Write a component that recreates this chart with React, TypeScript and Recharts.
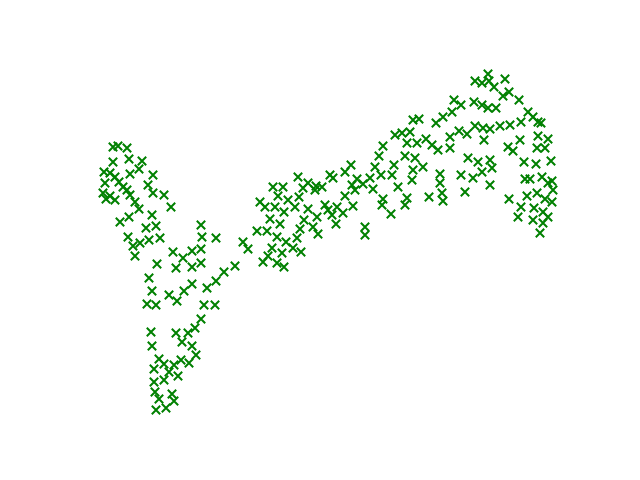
import React from 'react'
import { ScatterChart, Scatter, XAxis, YAxis } from 'recharts'

// readings, [x, y]; y grows downward (axis reversed)
const leftArm: [number, number][] = [
  [113, 147], [118, 146], [127, 148], [113, 162], [129, 159], [142, 161],
  [104, 172], [110, 173], [115, 177], [130, 174], [139, 169], [153, 175],
  [105, 183], [119, 182], [123, 187], [148, 185], [103, 193], [110, 196],
  [106, 199], [115, 200], [127, 190], [130, 195], [153, 193], [164, 195],
  [135, 202], [139, 209], [171, 207], [120, 222], [129, 217], [152, 215],
  [156, 226], [146, 228], [201, 225],
]

const leftMiddle: [number, number][] = [
  [128, 237], [133, 246], [140, 243], [149, 240], [160, 238], [135, 256],
  [202, 237], [216, 238], [173, 252], [183, 258], [192, 251], [201, 249],
  [157, 264], [176, 268], [192, 267], [201, 263], [149, 278], [192, 284],
  [184, 291], [207, 288], [216, 281], [152, 291], [169, 295], [177, 301],
  [147, 304], [156, 305], [204, 305], [215, 305], [201, 319],
]

const bottomDip: [number, number][] = [
  [151, 332], [152, 346], [176, 333], [188, 333], [195, 328], [182, 342],
  [192, 346], [196, 355], [159, 359], [164, 364], [154, 369], [174, 365],
  [181, 360], [189, 363], [169, 372], [164, 380], [178, 376], [154, 382],
  [155, 392], [159, 399], [172, 394], [174, 401], [156, 410], [166, 408],
]

const centerBand: [number, number][] = [
  [298, 177], [330, 175], [333, 178], [273, 187], [283, 187], [308, 183],
  [303, 188], [315, 190], [322, 187], [316, 186], [278, 196], [288, 200],
  [299, 197], [260, 202], [265, 207], [275, 207], [284, 212], [295, 207],
  [308, 209], [325, 205], [328, 210], [337, 207], [270, 219], [280, 224],
  [304, 220], [317, 217], [332, 215], [336, 224], [313, 227], [300, 229],
  [318, 234], [257, 231], [267, 231], [277, 237], [286, 242], [297, 238],
  [243, 242], [248, 249], [272, 248], [293, 248], [301, 252], [282, 253],
  [268, 256], [263, 262], [277, 263], [284, 267], [235, 266], [224, 272],
]

const risingBand: [number, number][] = [
  [413, 120], [419, 119], [436, 123], [395, 135], [402, 133], [410, 132],
  [407, 143], [417, 143], [426, 139], [432, 145], [383, 146], [379, 156],
  [405, 156], [415, 158], [394, 165], [375, 167], [413, 170], [423, 167],
  [351, 165], [345, 172], [381, 175], [392, 175], [412, 180], [357, 179],
  [370, 178], [363, 184], [352, 185], [355, 190], [373, 189], [398, 187],
  [345, 196], [353, 206], [343, 213], [383, 199], [382, 205], [407, 198],
  [405, 205], [429, 197], [391, 214], [365, 227], [365, 235],
]

const rightTop: [number, number][] = [
  [488, 74], [475, 81], [482, 83], [489, 81], [505, 79], [494, 87],
  [503, 96], [509, 92], [519, 100], [454, 100], [461, 105], [474, 102],
  [482, 105], [488, 108], [496, 108], [452, 112], [443, 117], [528, 112],
  [533, 117], [538, 122], [521, 122], [541, 123], [475, 126], [483, 128],
  [490, 129], [500, 126], [510, 125], [459, 131], [467, 134], [450, 137],
  [484, 140], [520, 140], [538, 136], [548, 139], [508, 147], [513, 151],
  [450, 148], [438, 150], [537, 148], [545, 148],
]

const rightLower: [number, number][] = [
  [468, 158], [478, 162], [490, 160], [492, 168], [482, 172], [524, 162],
  [536, 164], [551, 161], [440, 174], [461, 175], [473, 178], [490, 185],
  [440, 183], [442, 193], [443, 201], [465, 192], [525, 179], [530, 179],
  [542, 177], [548, 183], [552, 181], [553, 190], [527, 196], [537, 193],
  [545, 199], [552, 202], [509, 199], [521, 207], [534, 208], [518, 217],
  [533, 220], [543, 212], [548, 217], [543, 223], [540, 233],
]

const allPoints = [
  ...leftArm, ...leftMiddle, ...bottomDip, ...centerBand,
  ...risingBand, ...rightTop, ...rightLower,
].map(([x, y]) => ({ x, y }))

const XMark = (props: any) => {
  const { cx, cy } = props
  const r = 4.2
  return (
    <path
      d={`M${cx - r},${cy - r}L${cx + r},${cy + r}M${cx - r},${cy + r}L${cx + r},${cy - r}`}
      stroke="#008000"
      strokeWidth={2}
      fill="none"
    />
  )
}

const App: React.FC = () => {
  return (
    <div style={{ position: 'absolute', left: 0, top: 0, background: '#fff' }}>
      <ScatterChart
        width={640}
        height={480}
        margin={{ top: 57.6, right: 64, bottom: 52.8, left: 80 }}
      >
        <XAxis dataKey="x" type="number" domain={[80, 576]} hide />
        <YAxis dataKey="y" type="number" domain={[57.6, 427.2]} reversed hide />
        <Scatter data={allPoints} shape={XMark} isAnimationActive={false} />
      </ScatterChart>
    </div>
  )
}

export default App
